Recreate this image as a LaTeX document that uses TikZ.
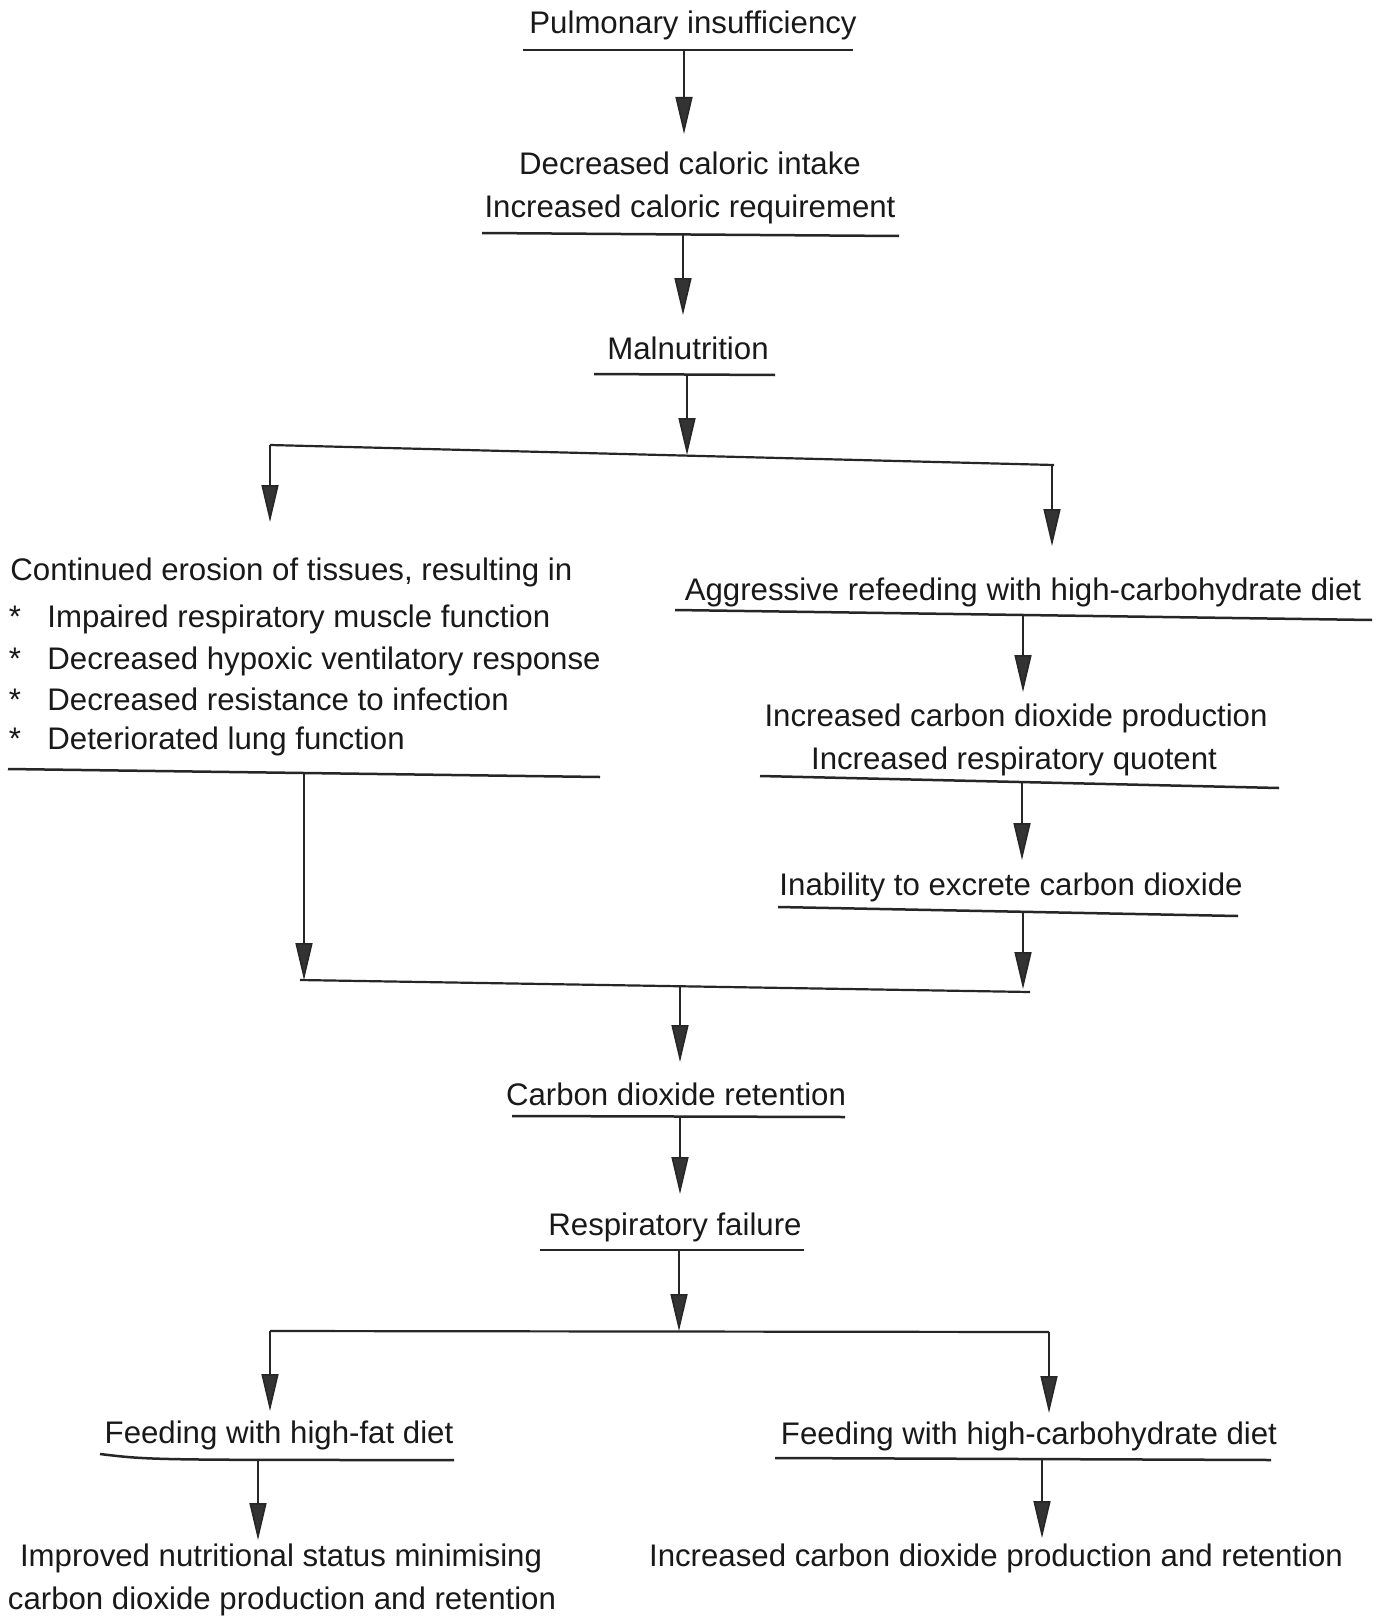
\documentclass[tikz,border=0pt]{standalone}
\usepackage{fontspec}
\setmainfont{Liberation Sans}
\usetikzlibrary{arrows.meta}
\begin{document}
\begin{tikzpicture}[x=0.5pt,y=-0.5pt,
  lbl/.style={font=\fontsize{15.6}{21}\selectfont, inner sep=0pt, anchor=base, text=black!90},
  lblw/.style={lbl, anchor=base west},
  uline/.style={line width=1.25pt, draw=black!85},
  bar/.style={line width=1.1pt, draw=black!85},
  arr/.style={line width=0.8pt, draw=black!85, -{Triangle[length=18.5pt,width=8.5pt,fill=black!80]}}]
\useasboundingbox (0,0) rectangle (1390,1621);
\fill[white] (0,0) rectangle (1390,1621);

% ---- text nodes ----
\node[lbl] (pulm) at (693,34) {Pulmonary insufficiency};
\node[lbl] (dec1) at (690,175) {Decreased caloric intake};
\node[lbl] (dec2) at (690,218) {Increased caloric requirement};
\node[lbl] (maln) at (688,359) {Malnutrition};

\node[lblw] (ero) at (10,580) {Continued erosion of tissues, resulting in};
\node[lbl] (s1) at (15,627) {*};
\node[lblw] (b1) at (47,627) {Impaired respiratory muscle function};
\node[lbl] (s2) at (15,669) {*};
\node[lblw] (b2) at (47,669) {Decreased hypoxic ventilatory response};
\node[lbl] (s3) at (15,710) {*};
\node[lblw] (b3) at (47,710) {Decreased resistance to infection};
\node[lbl] (s4) at (15,749) {*};
\node[lblw] (b4) at (47,749) {Deteriorated lung function};

\node[lbl] (aggr) at (1023,600) {Aggressive refeeding with high-carbohydrate diet};
\node[lbl] (co2a) at (1016,726) {Increased carbon dioxide production};
\node[lbl] (rq) at (1014,769) {Increased respiratory quotent};
\node[lbl] (inab) at (1011,895) {Inability to excrete carbon dioxide};

\node[lbl] (ret) at (676,1105) {Carbon dioxide retention};
\node[lbl] (rf) at (675,1235) {Respiratory failure};

\node[lbl] (ffat) at (279,1443) {Feeding with high-fat diet};
\node[lbl] (fcarb) at (1029,1444) {Feeding with high-carbohydrate diet};
\node[lbl] (imp1) at (281,1566) {Improved nutritional status minimising};
\node[lbl] (imp2) at (282,1609) {carbon dioxide production and retention};
\node[lbl] (inc) at (996,1566) {Increased carbon dioxide production and retention};

% ---- underlines ----
\draw[uline] (523,50) coordinate (pulmL) -- (853,50) coordinate (pulmR);
\draw[uline] (482,233) coordinate (decL) -- (899,236) coordinate (decR);
\draw[uline] (594,374) coordinate (malnL) -- (775,375) coordinate (malnR);
\draw[uline] (8,769) coordinate (eroL) -- (600,777) coordinate (eroR);
\draw[uline] (675,610) coordinate (aggrL) -- (1372,620) coordinate (aggrR);
\draw[uline] (760,776) coordinate (rqL) -- (1279,788) coordinate (rqR);
\draw[uline] (778,907) coordinate (inabL) -- (1238,916) coordinate (inabR);
\draw[uline] (512,1116) coordinate (retL) -- (845,1117) coordinate (retR);
\draw[uline] (540,1250) coordinate (rfL) -- (804,1250) coordinate (rfR);
\draw[uline] (100,1454) coordinate (ffatL) .. controls (150,1460) .. (454,1460) coordinate (ffatR);
\draw[uline] (775,1458) coordinate (fcarbL) -- (1271,1460) coordinate (fcarbR);

% ---- branch / merge bars ----
\coordinate (br1L) at (270,445);
\coordinate (br1M) at (687,455);
\coordinate (br1R) at (1054,465);
\draw[bar] (br1L) -- (br1R);
\coordinate (mgL) at (300,980);
\coordinate (mgM) at (680,986);
\coordinate (mgR) at (1030,992);
\draw[bar] (mgL) -- (mgR);
\coordinate (br2L) at (270,1331);
\coordinate (br2M) at (679,1331);
\coordinate (br2R) at (1049,1332);
\draw[bar] (br2L) -- (br2R);

% ---- arrow start / end points ----
\coordinate (a1s) at (684,50);   \coordinate (a1e) at (684,134);
\coordinate (a2s) at (683,234);  \coordinate (a2e) at (683,315);
\coordinate (a3s) at (687,374);
\coordinate (a4e) at (270,522);
\coordinate (a5s) at (1052,465); \coordinate (a5e) at (1052,546);
\coordinate (a6s) at (1023,615); \coordinate (a6e) at (1023,692);
\coordinate (a7s) at (1022,783); \coordinate (a7e) at (1022,860);
\coordinate (a8s) at (1023,912); \coordinate (a8e) at (1023,989);
\coordinate (a9s) at (304,773);  \coordinate (a9e) at (304,980);
\coordinate (a10e) at (680,1062);
\coordinate (a11s) at (680,1116); \coordinate (a11e) at (680,1194);
\coordinate (a12s) at (679,1250);
\coordinate (a13e) at (270,1411);
\coordinate (a14s) at (1049,1332); \coordinate (a14e) at (1049,1413);
\coordinate (a15s) at (258,1459); \coordinate (a15e) at (258,1540);
\coordinate (a16s) at (1042,1459); \coordinate (a16e) at (1042,1538);

% ---- arrows ----
\draw[arr] (a1s) -- (a1e);
\draw[arr] (a2s) -- (a2e);
\draw[arr] (a3s) -- (br1M);
\draw[arr] (br1L) -- (a4e);
\draw[arr] (a5s) -- (a5e);
\draw[arr] (a6s) -- (a6e);
\draw[arr] (a7s) -- (a7e);
\draw[arr] (a8s) -- (a8e);
\draw[arr] (a9s) -- (a9e);
\draw[arr] (mgM) -- (a10e);
\draw[arr] (a11s) -- (a11e);
\draw[arr] (a12s) -- (br2M);
\draw[arr] (br2L) -- (a13e);
\draw[arr] (a14s) -- (a14e);
\draw[arr] (a15s) -- (a15e);
\draw[arr] (a16s) -- (a16e);
\end{tikzpicture}
\end{document}
